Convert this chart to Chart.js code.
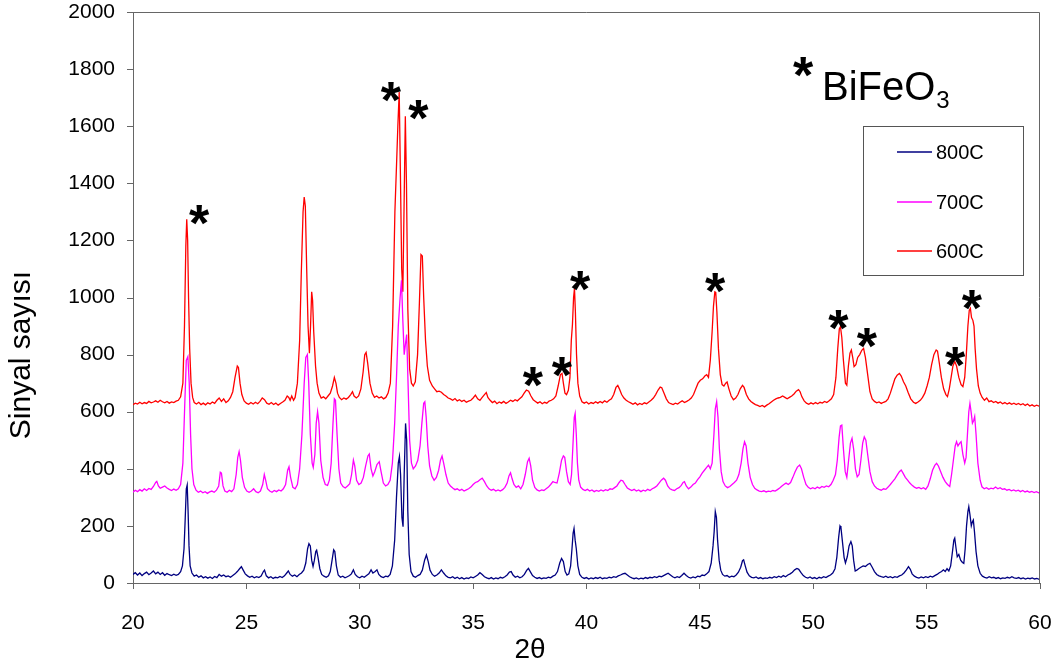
<!DOCTYPE html>
<html>
<head>
<meta charset="utf-8">
<title>XRD</title>
<script src="https://cdn.jsdelivr.net/npm/chart.js@4.4.1/dist/chart.umd.min.js"></script>
<style>
  html, body { margin: 0; padding: 0; background: #fff; }
  canvas { display: block; }
</style>
</head>
<body>
<canvas id="grafico" width="1059" height="668"></canvas>
<script>
// [2θ, sinyal] pairs for each calcination temperature
const puntos600 = [
  [20.0,624],[20.1,630],[20.2,627],[20.3,633],[20.4,628],[20.5,632],[20.6,629],[20.7,636],[20.8,631],[20.9,634],
  [21.0,638],[21.1,633],[21.2,640],[21.3,635],[21.4,631],[21.5,636],[21.6,630],[21.7,634],[21.8,632],[21.9,637],
  [22.0,640],[22.1,652],[22.2,700],[22.27,900],[22.33,1180],[22.37,1274],[22.41,1200],[22.45,1000],[22.5,820],[22.56,700],
  [22.63,650],[22.7,632],[22.8,627],[22.9,633],[23.0,625],[23.1,630],[23.2,624],[23.3,631],[23.4,627],[23.5,634],
  [23.6,629],[23.7,640],[23.8,648],[23.9,636],[24.0,645],[24.1,632],[24.2,638],[24.3,650],[24.4,670],[24.5,720],
  [24.6,760],[24.65,755],[24.72,700],[24.8,660],[24.9,638],[25.0,630],[25.1,626],[25.2,632],[25.3,627],[25.4,633],
  [25.5,628],[25.6,636],[25.7,648],[25.8,642],[25.9,630],[26.0,626],[26.1,632],[26.2,625],[26.3,630],[26.4,623],
  [26.5,629],[26.6,634],[26.7,640],[26.8,655],[26.87,650],[26.93,640],[27.0,655],[27.08,640],[27.15,650],[27.25,700],
  [27.35,850],[27.42,1080],[27.5,1300],[27.55,1352],[27.6,1320],[27.66,1100],[27.72,900],[27.78,805],[27.83,900],[27.88,1020],
  [27.92,990],[27.97,880],[28.05,760],[28.12,700],[28.2,665],[28.3,648],[28.4,652],[28.5,645],[28.6,655],[28.7,665],
  [28.8,690],[28.88,720],[28.95,700],[29.02,665],[29.1,650],[29.2,642],[29.3,648],[29.4,644],[29.5,650],[29.6,660],
  [29.68,670],[29.75,655],[29.85,648],[29.95,655],[30.05,680],[30.15,740],[30.22,800],[30.28,808],[30.35,770],[30.45,700],
  [30.55,665],[30.65,650],[30.75,655],[30.85,648],[30.95,652],[31.05,645],[31.15,650],[31.25,665],[31.35,700],[31.45,900],
  [31.55,1300],[31.62,1460],[31.68,1600],[31.74,1720],[31.79,1450],[31.85,1100],[31.9,1020],[31.96,1350],[32.01,1635],[32.06,1400],
  [32.12,960],[32.2,750],[32.28,700],[32.36,690],[32.45,705],[32.55,800],[32.63,980],[32.7,1150],[32.76,1145],[32.82,1000],
  [32.9,850],[32.98,760],[33.08,710],[33.2,690],[33.3,680],[33.4,670],[33.5,672],[33.6,668],[33.7,660],[33.8,655],
  [33.9,648],[34.0,645],[34.1,640],[34.2,646],[34.3,638],[34.4,642],[34.5,636],[34.6,640],[34.7,633],[34.8,637],
  [34.9,640],[35.0,648],[35.1,658],[35.2,645],[35.3,640],[35.4,650],[35.5,660],[35.58,667],[35.65,650],[35.75,640],
  [35.85,632],[35.95,637],[36.05,628],[36.15,634],[36.25,630],[36.35,636],[36.45,629],[36.55,634],[36.65,640],[36.75,636],
  [36.85,642],[36.95,638],[37.05,645],[37.15,652],[37.25,665],[37.35,676],[37.45,672],[37.55,655],[37.65,642],[37.75,636],
  [37.85,630],[37.95,635],[38.05,628],[38.15,633],[38.25,630],[38.35,637],[38.45,640],[38.55,645],[38.65,655],[38.75,690],
  [38.85,730],[38.92,734],[38.98,700],[39.05,665],[39.12,660],[39.2,675],[39.27,720],[39.33,850],[39.38,905],[39.43,1000],
  [39.47,1032],[39.51,950],[39.56,800],[39.62,700],[39.7,655],[39.8,635],[39.9,630],[40.0,634],[40.1,627],[40.2,632],
  [40.3,629],[40.4,635],[40.5,630],[40.6,636],[40.7,631],[40.8,638],[40.9,633],[41.0,640],[41.1,645],[41.2,660],
  [41.3,685],[41.38,692],[41.45,680],[41.55,660],[41.65,648],[41.75,640],[41.85,635],[41.95,631],[42.05,626],[42.15,631],
  [42.25,624],[42.35,629],[42.45,625],[42.55,631],[42.65,628],[42.75,634],[42.85,640],[42.95,648],[43.05,660],[43.15,675],
  [43.25,686],[43.32,684],[43.42,665],[43.52,645],[43.62,632],[43.72,628],[43.82,625],[43.92,630],[44.02,627],[44.12,633],
  [44.22,638],[44.32,632],[44.42,636],[44.52,641],[44.62,648],[44.72,660],[44.82,680],[44.92,700],[45.02,710],[45.12,715],
  [45.22,725],[45.3,730],[45.38,720],[45.46,780],[45.54,880],[45.6,970],[45.66,1020],[45.7,1018],[45.75,950],[45.82,820],
  [45.9,730],[45.98,695],[46.06,690],[46.14,700],[46.2,704],[46.28,680],[46.38,655],[46.48,642],[46.58,648],[46.68,660],
  [46.78,680],[46.88,692],[46.95,685],[47.05,660],[47.15,645],[47.25,636],[47.35,630],[47.45,625],[47.55,622],[47.65,618],
  [47.75,622],[47.85,617],[47.95,623],[48.05,628],[48.15,634],[48.25,640],[48.35,645],[48.45,648],[48.55,650],[48.65,655],
  [48.75,650],[48.85,645],[48.95,650],[49.05,655],[49.15,662],[49.25,672],[49.35,677],[49.42,670],[49.5,652],[49.6,638],
  [49.7,630],[49.8,626],[49.9,631],[50.0,627],[50.1,632],[50.2,628],[50.3,633],[50.4,630],[50.5,636],[50.6,632],
  [50.7,638],[50.8,645],[50.9,660],[51.0,720],[51.08,820],[51.15,890],[51.2,898],[51.26,860],[51.33,780],[51.42,700],
  [51.48,693],[51.55,760],[51.62,805],[51.68,816],[51.74,790],[51.8,758],[51.88,765],[51.96,790],[52.05,800],[52.14,815],
  [52.22,822],[52.3,790],[52.4,730],[52.5,670],[52.6,645],[52.7,636],[52.8,631],[52.9,634],[53.0,629],[53.1,633],
  [53.2,636],[53.3,645],[53.4,665],[53.5,690],[53.6,715],[53.7,728],[53.8,734],[53.88,725],[53.98,705],[54.08,690],
  [54.18,668],[54.3,645],[54.42,633],[54.52,629],[54.62,634],[54.72,640],[54.82,650],[54.92,665],[55.02,690],[55.12,720],
  [55.22,765],[55.32,800],[55.42,816],[55.48,812],[55.56,770],[55.65,720],[55.75,680],[55.85,660],[55.92,653],[56.0,680],
  [56.08,720],[56.16,760],[56.24,776],[56.32,760],[56.42,720],[56.52,695],[56.6,688],[56.68,720],[56.75,800],[56.82,900],
  [56.88,955],[56.93,962],[56.98,930],[57.04,920],[57.09,900],[57.14,820],[57.2,750],[57.28,690],[57.36,665],[57.45,650],
  [57.55,640],[57.65,648],[57.75,635],[57.85,638],[57.95,632],[58.05,636],[58.15,630],[58.25,634],[58.35,628],[58.45,632],
  [58.55,627],[58.65,631],[58.75,626],[58.85,630],[58.95,625],[59.05,629],[59.15,624],[59.25,628],[59.35,622],[59.45,627],
  [59.55,620],[59.65,624],[59.75,619],[59.85,623],[59.95,620],[60.0,622]
]

const puntos700 = [
  [20.0,318],[20.1,325],[20.2,320],[20.3,327],[20.4,322],[20.5,330],[20.6,324],[20.7,331],[20.8,328],[20.9,338],
  [21.0,352],[21.05,356],[21.12,340],[21.2,332],[21.3,336],[21.4,340],[21.5,333],[21.6,328],[21.7,324],[21.8,329],
  [21.9,325],[22.0,330],[22.1,345],[22.2,420],[22.28,620],[22.35,780],[22.42,793],[22.48,700],[22.54,520],[22.6,400],
  [22.68,345],[22.78,325],[22.88,318],[22.98,322],[23.08,316],[23.18,320],[23.28,314],[23.38,319],[23.48,322],[23.58,318],
  [23.68,325],[23.78,340],[23.85,388],[23.9,385],[23.97,340],[24.05,322],[24.15,318],[24.25,325],[24.35,320],[24.45,330],
  [24.55,380],[24.62,440],[24.68,460],[24.74,430],[24.82,370],[24.92,335],[25.02,322],[25.12,318],[25.22,322],[25.32,330],
  [25.42,320],[25.52,316],[25.62,322],[25.72,345],[25.79,380],[25.85,360],[25.93,330],[26.03,322],[26.13,318],[26.23,324],
  [26.33,320],[26.43,326],[26.53,322],[26.63,330],[26.73,345],[26.82,395],[26.88,407],[26.95,370],[27.05,335],[27.15,330],
  [27.25,345],[27.35,400],[27.45,520],[27.55,700],[27.62,790],[27.69,800],[27.75,700],[27.82,520],[27.9,420],[27.95,405],
  [28.02,450],[28.08,560],[28.14,600],[28.2,560],[28.28,430],[28.38,370],[28.48,345],[28.58,342],[28.66,360],[28.74,420],
  [28.82,560],[28.88,645],[28.93,640],[29.0,520],[29.08,400],[29.16,350],[29.26,338],[29.36,333],[29.46,340],[29.56,348],
  [29.64,380],[29.72,430],[29.78,410],[29.86,360],[29.96,345],[30.06,350],[30.16,370],[30.26,410],[30.36,445],[30.42,452],
  [30.5,400],[30.58,375],[30.66,390],[30.76,415],[30.86,425],[30.94,390],[31.04,350],[31.14,340],[31.24,345],[31.34,360],
  [31.44,420],[31.54,560],[31.62,720],[31.7,900],[31.78,1000],[31.84,1060],[31.9,920],[31.96,800],[32.02,840],[32.07,870],
  [32.13,700],[32.2,500],[32.28,420],[32.36,400],[32.46,410],[32.56,430],[32.66,480],[32.74,560],[32.82,630],[32.87,635],
  [32.93,580],[33.0,480],[33.08,410],[33.18,375],[33.28,360],[33.38,370],[33.48,395],[33.56,430],[33.63,445],[33.7,420],
  [33.8,380],[33.9,350],[34.0,340],[34.1,333],[34.2,327],[34.3,330],[34.4,324],[34.5,328],[34.6,322],[34.7,326],
  [34.8,330],[34.9,336],[35.0,345],[35.1,352],[35.2,355],[35.3,362],[35.4,367],[35.5,355],[35.6,340],[35.7,330],
  [35.8,325],[35.9,328],[36.0,322],[36.1,326],[36.2,322],[36.3,327],[36.4,335],[36.5,350],[36.58,375],[36.65,386],
  [36.72,365],[36.8,345],[36.9,335],[37.0,340],[37.1,330],[37.2,345],[37.3,380],[37.4,425],[37.47,437],[37.54,410],
  [37.62,360],[37.72,335],[37.82,326],[37.92,322],[38.02,326],[38.12,324],[38.22,330],[38.32,336],[38.42,345],[38.52,355],
  [38.6,352],[38.7,350],[38.8,385],[38.9,430],[38.98,445],[39.04,440],[39.12,390],[39.2,355],[39.28,345],[39.34,380],
  [39.4,480],[39.46,580],[39.5,594],[39.55,520],[39.6,420],[39.66,360],[39.74,336],[39.84,328],[39.94,324],[40.04,328],
  [40.14,322],[40.24,326],[40.34,320],[40.44,324],[40.54,321],[40.64,326],[40.74,322],[40.84,327],[40.94,324],[41.04,330],
  [41.14,328],[41.24,334],[41.34,340],[41.44,352],[41.52,360],[41.6,358],[41.7,345],[41.8,333],[41.9,328],[42.0,324],
  [42.1,328],[42.2,322],[42.3,326],[42.4,320],[42.5,325],[42.6,322],[42.7,328],[42.8,324],[42.9,330],[43.0,334],
  [43.1,340],[43.2,350],[43.3,360],[43.4,367],[43.48,360],[43.58,340],[43.68,330],[43.78,326],[43.88,324],[43.98,330],
  [44.08,334],[44.18,342],[44.26,352],[44.32,355],[44.4,340],[44.5,330],[44.6,336],[44.7,345],[44.8,350],[44.9,362],
  [45.0,372],[45.1,385],[45.2,395],[45.3,405],[45.38,413],[45.46,400],[45.54,420],[45.62,520],[45.68,610],[45.74,635],
  [45.8,580],[45.86,470],[45.94,390],[46.02,355],[46.12,340],[46.22,334],[46.32,338],[46.42,345],[46.52,352],[46.62,360],
  [46.72,380],[46.82,420],[46.9,470],[46.97,495],[47.04,480],[47.12,420],[47.22,370],[47.32,345],[47.42,332],[47.52,326],
  [47.62,322],[47.72,320],[47.82,323],[47.92,319],[48.02,322],[48.12,320],[48.22,324],[48.32,322],[48.42,327],[48.52,333],
  [48.62,340],[48.72,346],[48.8,350],[48.9,345],[49.0,352],[49.1,370],[49.2,390],[49.3,406],[49.4,413],[49.48,400],
  [49.58,370],[49.68,345],[49.78,335],[49.88,330],[49.98,334],[50.08,330],[50.18,336],[50.28,332],[50.38,338],[50.48,335],
  [50.58,340],[50.68,337],[50.78,345],[50.88,360],[50.98,380],[51.06,430],[51.14,510],[51.2,550],[51.26,553],[51.33,470],
  [51.41,390],[51.48,370],[51.56,430],[51.64,490],[51.71,507],[51.78,470],[51.86,400],[51.94,372],[52.02,380],[52.1,430],
  [52.18,490],[52.25,512],[52.32,500],[52.4,450],[52.5,390],[52.6,355],[52.7,340],[52.8,332],[52.9,328],[53.0,325],
  [53.1,330],[53.2,328],[53.3,336],[53.4,345],[53.5,355],[53.6,365],[53.7,378],[53.8,390],[53.88,396],[53.96,385],
  [54.06,370],[54.16,360],[54.26,350],[54.36,342],[54.46,336],[54.56,332],[54.66,335],[54.76,330],[54.86,334],[54.96,328],
  [55.06,340],[55.16,365],[55.26,395],[55.36,412],[55.44,419],[55.52,410],[55.62,390],[55.72,370],[55.82,355],[55.92,345],
  [56.02,338],[56.1,380],[56.18,430],[56.26,480],[56.32,495],[56.38,480],[56.46,490],[56.52,495],[56.6,450],[56.68,420],
  [56.74,440],[56.8,520],[56.86,600],[56.91,629],[56.96,600],[57.02,560],[57.08,570],[57.12,583],[57.18,520],[57.26,420],
  [57.36,360],[57.44,337],[57.54,330],[57.64,334],[57.74,328],[57.84,332],[57.94,330],[58.04,336],[58.14,330],[58.24,334],
  [58.34,328],[58.44,330],[58.54,325],[58.64,328],[58.74,323],[58.84,326],[58.94,322],[59.04,325],[59.14,320],[59.24,324],
  [59.34,319],[59.44,322],[59.54,318],[59.64,321],[59.74,317],[59.84,320],[59.94,316],[60.0,318]
]

const puntos800 = [
  [20.0,30],[20.1,36],[20.2,28],[20.3,35],[20.4,26],[20.5,33],[20.6,38],[20.7,29],[20.8,35],[20.9,42],
  [21.0,32],[21.1,38],[21.2,30],[21.3,36],[21.4,27],[21.5,33],[21.6,29],[21.7,26],[21.8,31],[21.9,27],
  [22.0,30],[22.1,40],[22.18,60],[22.25,120],[22.3,220],[22.35,330],[22.39,343],[22.43,250],[22.47,130],[22.52,60],
  [22.6,35],[22.7,24],[22.8,28],[22.9,20],[23.0,25],[23.1,18],[23.2,22],[23.3,17],[23.4,21],[23.5,16],
  [23.6,23],[23.7,19],[23.8,30],[23.9,24],[24.0,28],[24.1,22],[24.2,25],[24.3,20],[24.4,26],[24.5,32],
  [24.6,40],[24.7,50],[24.78,57],[24.86,45],[24.95,32],[25.05,25],[25.15,20],[25.25,24],[25.35,18],[25.45,22],
  [25.55,19],[25.65,24],[25.75,40],[25.8,45],[25.88,25],[25.98,18],[26.08,22],[26.18,16],[26.28,20],[26.38,18],
  [26.48,23],[26.58,19],[26.68,25],[26.78,35],[26.85,42],[26.93,30],[27.03,24],[27.13,28],[27.23,22],[27.33,30],
  [27.43,35],[27.53,45],[27.62,70],[27.7,120],[27.76,138],[27.82,130],[27.88,80],[27.94,58],[28.0,80],[28.06,110],
  [28.1,115],[28.16,90],[28.24,50],[28.32,30],[28.42,24],[28.52,20],[28.62,25],[28.7,40],[28.78,80],[28.85,116],
  [28.9,110],[28.97,60],[29.05,28],[29.15,20],[29.25,24],[29.35,18],[29.45,22],[29.55,26],[29.63,32],[29.72,46],
  [29.8,30],[29.9,22],[30.0,18],[30.1,24],[30.2,20],[30.3,26],[30.4,32],[30.5,46],[30.58,35],[30.68,40],
  [30.76,46],[30.84,30],[30.94,22],[31.04,19],[31.14,24],[31.24,22],[31.34,30],[31.44,60],[31.54,150],[31.62,300],
  [31.7,420],[31.75,443],[31.8,380],[31.86,230],[31.91,197],[31.96,380],[32.02,559],[32.07,500],[32.12,250],[32.18,100],
  [32.26,40],[32.36,24],[32.46,20],[32.56,26],[32.66,30],[32.76,45],[32.86,80],[32.94,98],[33.02,75],[33.1,45],
  [33.2,30],[33.3,24],[33.4,28],[33.5,35],[33.6,46],[33.7,35],[33.8,25],[33.9,20],[34.0,18],[34.1,22],
  [34.2,16],[34.3,20],[34.4,15],[34.5,19],[34.6,14],[34.7,18],[34.8,16],[34.9,21],[35.0,18],[35.1,23],
  [35.2,28],[35.3,36],[35.4,30],[35.5,22],[35.6,18],[35.7,15],[35.8,19],[35.9,14],[36.0,18],[36.1,15],
  [36.2,20],[36.3,17],[36.4,22],[36.5,28],[36.6,38],[36.68,40],[36.76,28],[36.86,20],[36.96,24],[37.06,18],
  [37.16,22],[37.26,30],[37.36,44],[37.44,51],[37.52,40],[37.62,26],[37.72,20],[37.82,16],[37.92,19],[38.02,15],
  [38.12,18],[38.22,16],[38.32,20],[38.42,18],[38.52,24],[38.62,28],[38.72,40],[38.82,70],[38.9,86],[38.98,75],
  [39.06,40],[39.14,28],[39.22,32],[39.3,60],[39.36,120],[39.41,175],[39.45,191],[39.5,150],[39.55,120],[39.62,60],
  [39.7,30],[39.8,20],[39.9,16],[40.0,19],[40.1,14],[40.2,18],[40.3,15],[40.4,19],[40.5,16],[40.6,20],
  [40.7,15],[40.8,18],[40.9,16],[41.0,20],[41.1,18],[41.2,22],[41.3,20],[41.4,25],[41.5,28],[41.6,32],
  [41.7,34],[41.8,28],[41.9,22],[42.0,18],[42.1,15],[42.2,18],[42.3,14],[42.4,17],[42.5,15],[42.6,19],
  [42.7,16],[42.8,20],[42.9,18],[43.0,22],[43.1,19],[43.2,24],[43.3,22],[43.4,26],[43.5,30],[43.6,34],
  [43.7,28],[43.8,22],[43.9,18],[44.0,22],[44.1,19],[44.2,26],[44.3,34],[44.4,26],[44.5,20],[44.6,17],
  [44.7,21],[44.8,18],[44.9,24],[45.0,22],[45.1,28],[45.2,26],[45.3,32],[45.4,40],[45.5,70],[45.58,130],
  [45.63,180],[45.68,250],[45.73,230],[45.78,150],[45.85,80],[45.92,45],[46.0,30],[46.1,24],[46.2,26],[46.3,20],
  [46.4,24],[46.5,22],[46.6,28],[46.7,38],[46.8,55],[46.88,78],[46.93,81],[47.0,60],[47.08,38],[47.18,25],
  [47.28,20],[47.38,18],[47.48,21],[47.58,16],[47.68,19],[47.78,15],[47.88,18],[47.98,16],[48.08,20],[48.18,17],
  [48.28,22],[48.38,19],[48.48,24],[48.58,20],[48.68,26],[48.78,22],[48.88,28],[48.98,32],[49.08,38],[49.18,46],
  [49.28,51],[49.36,48],[49.46,36],[49.56,26],[49.66,20],[49.76,17],[49.86,21],[49.96,16],[50.06,19],[50.16,15],
  [50.26,20],[50.36,17],[50.46,22],[50.56,19],[50.66,24],[50.76,28],[50.86,35],[50.96,50],[51.04,90],[51.12,160],
  [51.18,200],[51.22,195],[51.28,150],[51.36,90],[51.42,70],[51.5,92],[51.58,130],[51.66,145],[51.72,130],[51.78,80],
  [51.85,42],[51.92,45],[52.0,50],[52.1,55],[52.2,60],[52.3,58],[52.4,65],[52.5,69],[52.6,55],[52.7,40],
  [52.8,30],[52.9,25],[53.0,22],[53.1,20],[53.2,24],[53.3,19],[53.4,22],[53.5,18],[53.6,22],[53.7,20],
  [53.8,25],[53.9,28],[54.0,35],[54.1,45],[54.2,57],[54.28,48],[54.36,32],[54.46,24],[54.56,20],[54.66,17],
  [54.76,21],[54.86,18],[54.96,22],[55.06,19],[55.16,24],[55.26,21],[55.36,26],[55.46,30],[55.56,36],[55.66,40],
  [55.74,46],[55.82,40],[55.9,50],[55.98,42],[56.06,60],[56.14,110],[56.2,150],[56.24,157],[56.3,120],[56.35,92],
  [56.42,100],[56.5,80],[56.58,72],[56.64,69],[56.7,120],[56.76,200],[56.82,250],[56.86,267],[56.91,240],[56.97,200],
  [57.02,215],[57.06,221],[57.11,180],[57.18,110],[57.26,60],[57.36,34],[57.46,24],[57.56,20],[57.66,17],[57.76,22],
  [57.86,18],[57.96,20],[58.06,16],[58.16,19],[58.26,15],[58.36,18],[58.46,16],[58.56,20],[58.66,17],[58.76,22],
  [58.86,18],[58.96,16],[59.06,19],[59.16,15],[59.26,18],[59.36,14],[59.46,17],[59.56,15],[59.66,18],[59.76,14],
  [59.86,16],[59.96,13],[60.0,15]
]

// BiFeO3 peak markers (position of each "*")
const estrellaX = [22.92, 31.37, 32.59, 37.63, 38.91, 39.72, 45.67, 51.11, 52.36, 56.26, 56.99]
const estrellaY = [1289, 1721, 1657, 720, 756, 1059, 1052, 921, 857, 791, 991]

const etiquetas = ['800C', '700C', '600C']
const colores = ['#000080', '#ff00ff', '#ff0000']

const fuente = '"Liberation Sans", Arial, sans-serif'

function aXY(puntos){
    return puntos.map(p => ({x: p[0], y: p[1]}))
}

function centrarTexto(ctx, texto, cx, cy){
    let m = ctx.measureText(texto)
    let base = cy + (m.actualBoundingBoxAscent - m.actualBoundingBoxDescent) / 2
    ctx.fillText(texto, cx, base)
}

const extras = {
    id: 'extras',
    afterDraw(chart){
        const ctx = chart.ctx
        const area = chart.chartArea
        const x = chart.scales.x
        const y = chart.scales.y
        ctx.save()

        // top and right frame, y tick marks
        ctx.strokeStyle = '#666'
        ctx.lineWidth = 1
        ctx.beginPath()
        ctx.moveTo(area.left, area.top + 0.5)
        ctx.lineTo(area.right - 0.5, area.top + 0.5)
        ctx.lineTo(area.right - 0.5, area.bottom)
        for (let t of y.ticks) {
            let py = Math.round(y.getPixelForValue(t.value)) + 0.5
            ctx.moveTo(area.left - 6, py)
            ctx.lineTo(area.left, py)
        }
        ctx.stroke()

        // asterisks over the BiFeO3 reflections
        ctx.fillStyle = '#000'
        ctx.textAlign = 'center'
        ctx.textBaseline = 'alphabetic'
        ctx.font = 'bold 52px ' + fuente
        for (let i = 0; i < estrellaX.length; i++) {
            centrarTexto(ctx, '*', x.getPixelForValue(estrellaX[i]), y.getPixelForValue(estrellaY[i]))
        }
        centrarTexto(ctx, '*', 803, 67)

        // BiFeO3 label
        ctx.textAlign = 'left'
        ctx.font = '40px ' + fuente
        ctx.fillText('BiFeO', 822, 100)
        let ancho = ctx.measureText('BiFeO').width
        ctx.font = '24px ' + fuente
        ctx.fillText('3', 822 + ancho + 1, 108)

        // legend box
        ctx.fillStyle = '#fff'
        ctx.fillRect(863, 126, 161, 150)
        ctx.strokeStyle = '#555'
        ctx.strokeRect(863.5, 126.5, 160, 149)
        let filas = [152, 202, 251]
        ctx.font = '20px ' + fuente
        ctx.textBaseline = 'middle'
        ctx.lineWidth = 1.3
        for (let i = 0; i < etiquetas.length; i++) {
            ctx.strokeStyle = colores[i]
            ctx.beginPath()
            ctx.moveTo(897, filas[i])
            ctx.lineTo(932, filas[i])
            ctx.stroke()
            ctx.fillStyle = '#000'
            ctx.fillText(etiquetas[i], 936, filas[i] + 1)
        }

        // axis titles
        ctx.textAlign = 'center'
        ctx.textBaseline = 'alphabetic'
        ctx.font = '28px ' + fuente
        centrarTexto(ctx, '2θ', 530, 648)
        ctx.translate(22, 355)
        ctx.rotate(-Math.PI / 2)
        ctx.font = '30px ' + fuente
        centrarTexto(ctx, 'Sinyal sayısı', 0, 0)
        ctx.restore()
    }
}

function grafico(){
    let series = [puntos800, puntos700, puntos600]
    let datasets = series.map((s, i) => ({
        label: etiquetas[i],
        data: aXY(s),
        borderColor: colores[i],
        borderWidth: 1.3,
        pointRadius: 0,
        fill: false,
        tension: 0
    }))

    let config = {
        type: 'line',
        data: { datasets },
        options: {
            responsive: false,
            animation: false,
            layout: { padding: { left: 0, right: 19, top: 12, bottom: 0 } },
            plugins: { legend: { display: false }, tooltip: { enabled: false } },
            scales: {
                x: {
                    type: 'linear',
                    min: 20,
                    max: 60,
                    // tall line height pushes the labels down without widening the side padding
                    ticks: { stepSize: 5, color: '#000', padding: 0, font: { family: fuente, size: 21, lineHeight: 3.3 }, maxRotation: 0, callback: v => String(v) },
                    grid: { drawOnChartArea: false, tickLength: 6, color: '#666' },
                    border: { color: '#666' },
                    afterFit: s => { s.height = 85 }
                },
                y: {
                    min: 0,
                    max: 2000,
                    // tick marks are drawn in the plugin; the long hidden tick sets the label gap
                    ticks: { stepSize: 200, color: '#000', padding: 0, font: { family: fuente, size: 21, lineHeight: 1.14 }, callback: v => String(v) },
                    grid: { drawOnChartArea: false, tickLength: 18, tickColor: 'rgba(0,0,0,0)' },
                    border: { color: '#666' },
                    afterFit: s => { s.width = 133 }
                }
            }
        },
        plugins: [extras]
    }

    new Chart(document.getElementById('grafico'), config)
}

grafico()
</script>
</body>
</html>
